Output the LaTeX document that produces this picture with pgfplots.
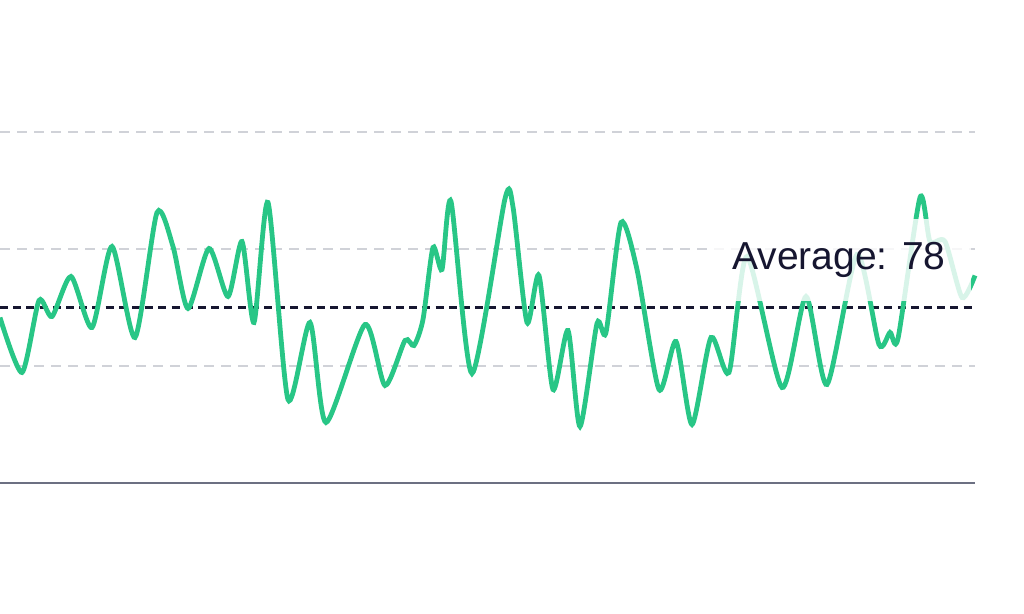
\documentclass[border=0pt]{standalone}
\usepackage{pgfplots}
\pgfplotsset{compat=1.18}
\usepackage{fontspec}
\setmainfont{Liberation Sans}
\definecolor{linegreen}{RGB}{40,198,134}
\definecolor{gridgray}{RGB}{208,210,216}
\definecolor{avgnavy}{RGB}{22,22,48}
\definecolor{axisgray}{RGB}{108,112,130}
\begin{document}
\begin{tikzpicture}[x=0.5pt,y=0.5pt]
\useasboundingbox (0,-131) rectangle (1024,483);
\begin{axis}[
  at={(0,0)}, anchor=south west,
  scale only axis,
  width=487.5pt, height=234pt,
  xmin=0, xmax=975, ymin=48, ymax=128,
  axis x line=bottom, axis y line=left,
  x axis line style={-, color=axisgray, line width=1.3pt},
  y axis line style={draw=none},
  xtick=\empty, ytick={68,88,108}, yticklabels={},
  ymajorgrids,
  major grid style={color=gridgray, line width=1.1pt, dash pattern=on 5pt off 3.5pt},
  major tick length=0pt,
  clip=false,
]
\addplot[color=avgnavy, line width=1.2pt, dash pattern=on 4pt off 2.6pt] coordinates {(0,78) (975,78)};
\addplot[color=linegreen, line width=2.4pt, smooth, tension=0.42] coordinates {
(0,76.29) (22,66.89) (39,79.20) (52,76.46) (71,83.30) (92,74.58) (112,88.43)
(135,72.87) (157,94.24) (173,88.43) (188,77.83) (209,88.09) (228,79.88) (242,89.28)
(254,75.44) (268,95.95) (288,62.27) (310,75.44) (326,58.34) (365,75.09) (385,64.67)
(405,72.36) (414,71.50) (423,75.95) (433,88.26) (442,84.50) (451,96.12) (472,66.72)
(505,96.6) (513,95.2) (527,75.44) (539,83.47) (553,63.98) (568,74.07) (580,57.66)
(597,75.26) (606,73.73) (621,92.53) (637,84.50) (659,63.98) (676,72.19) (692,58.00)
(711,72.87) (729,66.89) (747,86.72) (782,64.32) (806,79.88) (827,64.84) (857,87.06)
(879,71.68) (890,73.73) (898,72.70) (920,96.80) (930,89.28) (945,89.28) (962,79.71)
(975,83.47)
};
\node[fill=white, fill opacity=0.82, text opacity=1, text=avgnavy,
      minimum width=132pt, minimum height=41pt, inner sep=0pt,
      font=\fontsize{19.5pt}{22pt}\selectfont]
  at (axis cs:839,86.2) {Average: 78};
\end{axis}
\end{tikzpicture}
\end{document}
